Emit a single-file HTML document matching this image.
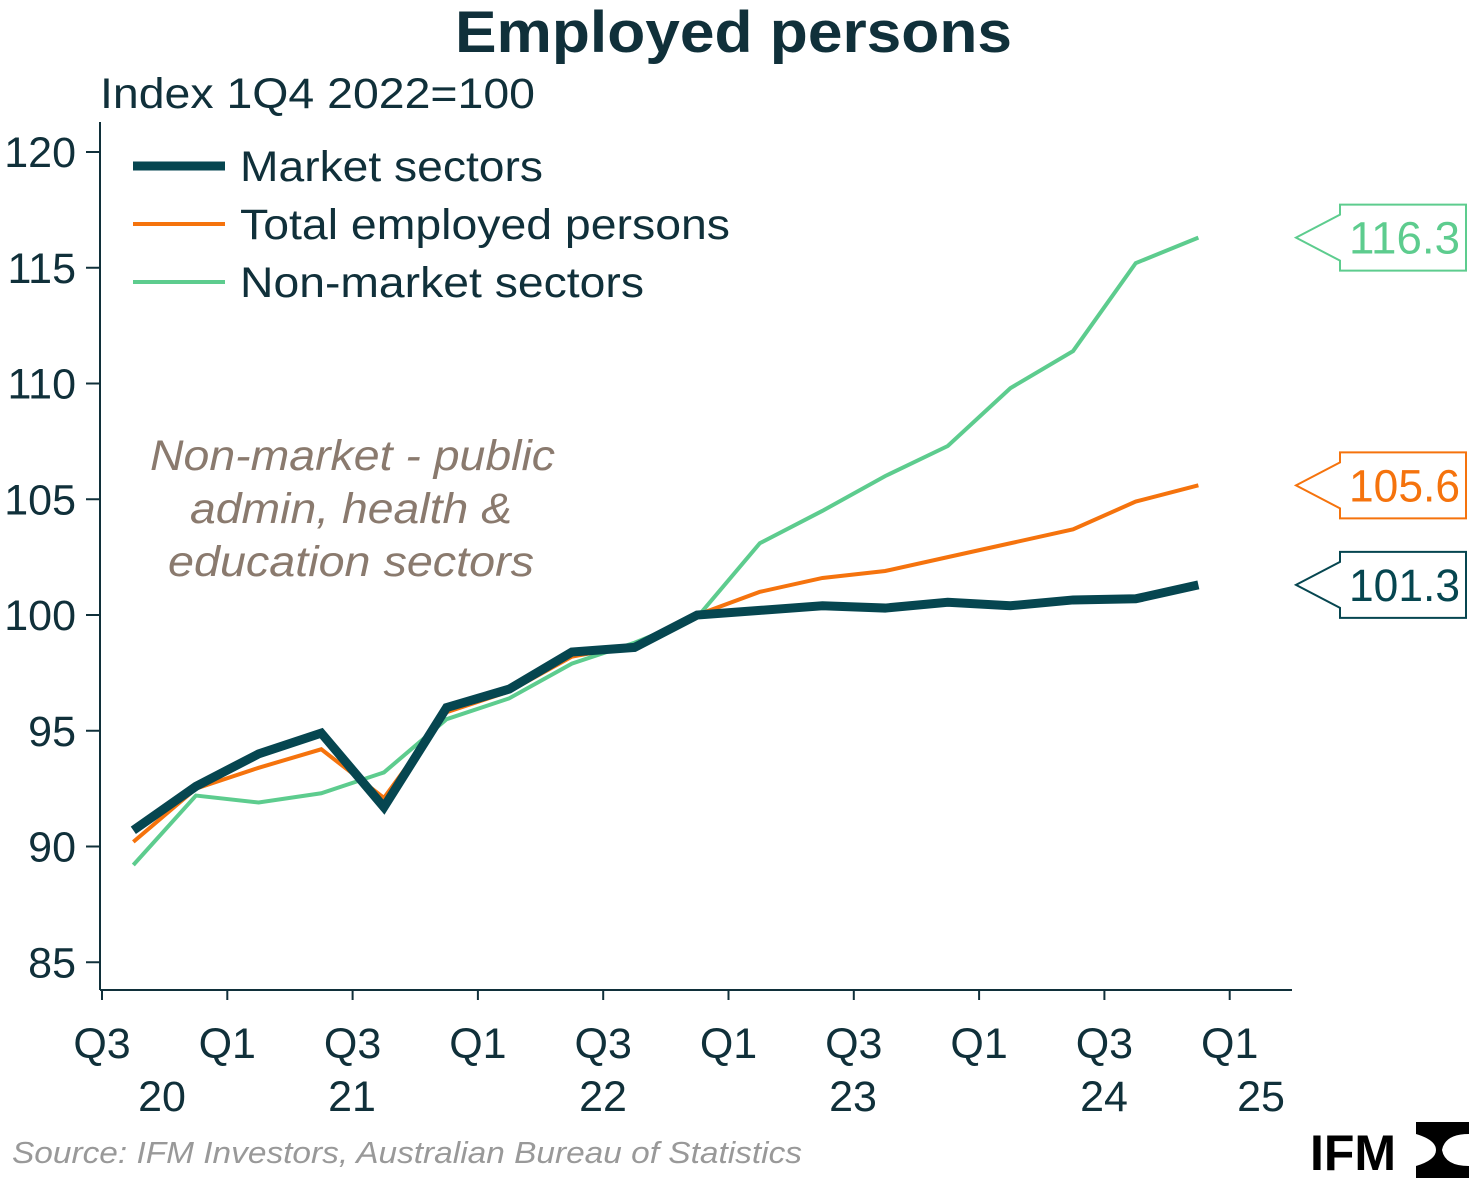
<!DOCTYPE html>
<html><head><meta charset="utf-8"><style>
body{margin:0;background:#fff;}
svg text{font-family:"Liberation Sans",sans-serif;}
</style></head><body>
<svg id="chart" width="1469" height="1184" viewBox="0 0 1469 1184" xmlns="http://www.w3.org/2000/svg">
<text x="455" y="52" textLength="557" lengthAdjust="spacingAndGlyphs" font-size="58" font-weight="bold" fill="#10303a">Employed persons</text>
<text x="100" y="108" textLength="435" lengthAdjust="spacingAndGlyphs" font-size="43" fill="#10303a">Index 1Q4 2022=100</text>
<g id="axes"></g>
<g id="series"></g>
<g>
<line x1="133" y1="166" x2="225" y2="166" stroke="#064650" stroke-width="9"/>
<text x="240" y="181" textLength="303" lengthAdjust="spacingAndGlyphs" font-size="43" fill="#10303a">Market sectors</text>
<line x1="133" y1="224" x2="225" y2="224" stroke="#f5730d" stroke-width="4"/>
<text x="240" y="239" textLength="490" lengthAdjust="spacingAndGlyphs" font-size="43" fill="#10303a">Total employed persons</text>
<line x1="133" y1="282" x2="225" y2="282" stroke="#5dcc8e" stroke-width="4"/>
<text x="240" y="297" textLength="404" lengthAdjust="spacingAndGlyphs" font-size="43" fill="#10303a">Non-market sectors</text>
</g>
<g font-size="43" font-style="italic" fill="#8a7a6e" lengthAdjust="spacingAndGlyphs">
<text x="150" y="470" textLength="405" lengthAdjust="spacingAndGlyphs">Non-market - public</text>
<text x="190" y="523" textLength="322" lengthAdjust="spacingAndGlyphs">admin, health &amp;</text>
<text x="168" y="576" textLength="366" lengthAdjust="spacingAndGlyphs">education sectors</text>
</g>
<text x="12" y="1163" textLength="790" lengthAdjust="spacingAndGlyphs" font-size="31" font-style="italic" fill="#999">Source: IFM Investors, Australian Bureau of Statistics</text>
<g>
<text x="1310" y="1170" font-size="50" font-weight="bold" fill="#000">IFM</text>
<path d="M1416 1122 L1469 1122 L1469 1134 Q1445 1134 1442 1150 Q1445 1166 1469 1166 L1469 1178 L1416 1178 L1416 1166 Q1436 1160 1436 1150 Q1436 1140 1416 1134 Z" fill="#000"/>
</g>
<script>
const quarters=["Q3 20","Q4 20","Q1 21","Q2 21","Q3 21","Q4 21","Q1 22","Q2 22","Q3 22","Q4 22","Q1 23","Q2 23","Q3 23","Q4 23","Q1 24","Q2 24","Q3 24","Q4 24"];
const marketSectors=[90.7,92.6,94.0,94.9,91.7,96.0,96.8,98.4,98.6,100.0,100.2,100.4,100.3,100.55,100.4,100.65,100.7,101.3];
const totalEmployed=[90.2,92.5,93.4,94.2,92.1,95.8,96.7,98.2,98.7,100.0,101.0,101.6,101.9,102.5,103.1,103.7,104.9,105.6];
const nonMarket=[89.2,92.2,91.9,92.3,93.2,95.5,96.4,97.9,98.8,99.9,103.1,104.5,106.0,107.3,109.8,111.4,115.2,116.3];
const yTicks=[85,90,95,100,105,110,115,120];
const xTickLabels=[["Q3","20"],["Q1",""],["Q3","21"],["Q1",""],["Q3","22"],["Q1",""],["Q3","23"],["Q1",""],["Q3","24"],["Q1","25"]];
const yearLabels=[["20",162],["21",352],["22",603],["23",853],["24",1104],["25",1261]];
const NS="http://www.w3.org/2000/svg";
const x0=102,qw=62.65;
function xq(i){return x0+qw*(i+0.5);}
function yv(v){return 615-(v-100)*23.15;}
function mk(t,a,p){const e=document.createElementNS(NS,t);for(const k in a)e.setAttribute(k,a[k]);p.appendChild(e);return e;}
const axes=document.getElementById('axes');
const ya=mk('line',{x1:100,y1:122,x2:100,y2:990,stroke:'#10303a','stroke-width':2},axes);


const xa=mk('line',{x1:100,y1:990,x2:1292,y2:990,stroke:'#10303a','stroke-width':2},axes);


yTicks.forEach(v=>{
 mk('line',{x1:86,y1:yv(v),x2:100,y2:yv(v),stroke:'#10303a','stroke-width':2},axes);
 const t=mk('text',{x:76,y:yv(v)+15,'text-anchor':'end','font-size':43,fill:'#10303a'},axes);
 
 
 t.textContent=v;
});
xTickLabels.forEach((l,i)=>{
 const x=x0+qw*2*i;
 mk('line',{x1:x,y1:990,x2:x,y2:1000,stroke:'#10303a','stroke-width':2},axes);
 const t=mk('text',{x:x,y:1058,'text-anchor':'middle','font-size':43,fill:'#10303a'},axes);
 
 
 t.textContent=l[0];
});
yearLabels.forEach(l=>{
 const t=mk('text',{x:l[1],y:1111,'text-anchor':'middle','font-size':43,fill:'#10303a'},axes);
 
 
 t.textContent=l[0];
});
const ser=document.getElementById('series');
function line(vals,col,w,name){
 const p=mk('polyline',{points:vals.map((v,i)=>xq(i)+','+yv(v)).join(' '),fill:'none',stroke:col,'stroke-width':w,'stroke-linejoin':'miter'},ser);
 
 
 const last=vals[vals.length-1],y=yv(last);
 const g=mk('g',{},ser);
 
 
 mk('path',{d:`M1296 ${y} L1340 ${y-23} L1340 ${y-33} L1466 ${y-33} L1466 ${y+33} L1340 ${y+33} L1340 ${y+23} Z`,fill:'#fff',stroke:col,'stroke-width':2},g);
 const t=mk('text',{x:1349,y:y+16,textLength:111,lengthAdjust:'spacingAndGlyphs','font-size':45,fill:col},g);
 t.textContent=last.toFixed(1);
}
line(nonMarket,'#5dcc8e',4,'non-market-line');
line(totalEmployed,'#f5730d',4,'total-employed-line');
line(marketSectors,'#064650',9,'market-sectors-line');
ser.appendChild(ser.children[3]);ser.appendChild(ser.children[1]);
</script>
</svg>
</body></html>
